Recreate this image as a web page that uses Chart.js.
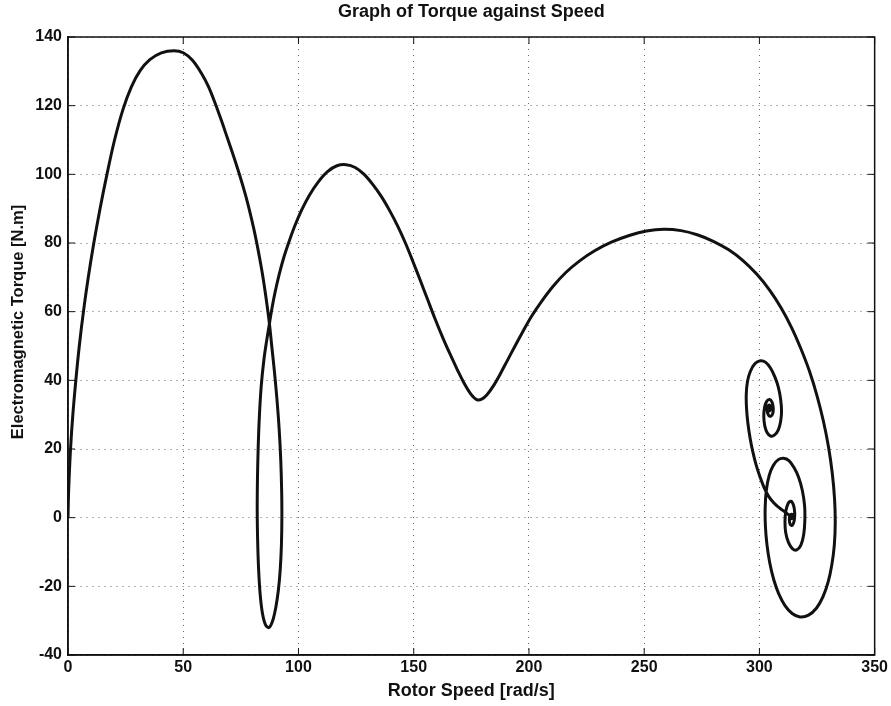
<!DOCTYPE html>
<html>
<head>
<meta charset="utf-8">
<title>Graph of Torque against Speed</title>
<script src="https://cdn.jsdelivr.net/npm/chart.js@4.4.1/dist/chart.umd.min.js"></script>
<style>
  html, body { margin: 0; padding: 0; background: #fff; }
  canvas { display: block; }
</style>
</head>
<body>
<canvas id="torqueChart" width="891" height="706"></canvas>
<script>
// Rotor speed [rad/s] and torque [N.m], in drawing order
const speed = [
  0, 0.15, 0.4, 1.1, 2.1, 3.4, 4.9, 6.7, 8.8, 11.2,
  13.9, 16.9, 20.2, 23.9, 27.5, 31.3, 35.5, 40.5, 46, 50,
  54, 58, 61, 63.8, 66.5, 69.2, 72, 74.6, 77, 79,
  80.6, 81.9, 83.2, 84.4, 85.5, 86.5, 87.4, 88.4, 89.5, 90.6,
  91.6, 92.3, 92.7, 92.8, 92.6, 92.1, 91.3, 90.2, 88.8, 87.2,
  85.7, 84.4, 83.4, 82.7, 82.3, 82.1, 82.2, 82.5, 83, 83.8,
  85, 86.3, 87.4, 88.5, 89.8, 91.5, 93.5, 95.7, 98.3, 101.3,
  104.8, 108.7, 112.6, 116.7, 120.7, 124.6, 128.5, 132.3, 136, 139.5,
  143, 146.4, 149.6, 152.8, 156, 159.2, 162.5, 165.8, 169, 172,
  174.8, 177.3, 179.5, 181.8, 184.5, 187.5, 190.5, 193.8, 197.2, 201,
  205.5, 210.5, 216, 222, 228.7, 236, 243.5, 251, 258.5, 266,
  273, 280, 286.7, 293, 299, 304.5, 309.5, 314, 318, 321.8,
  325, 327.8, 330, 331.6, 332.6, 332.9, 332.5, 331.4, 329.8, 327.6,
  324.8, 321.3, 317.6, 314.2, 311.1, 308.4, 306.2, 304.5, 303.3, 302.6,
  302.5, 303, 304.2, 306, 308.2, 310.5, 312.8, 315, 317, 318.6,
  319.6, 319.7, 319.2, 318, 316.2, 314.3, 312.6, 311.4, 311.1, 311.5,
  312.5, 313.7, 314.8, 315.3, 315.1, 314.3, 313.4, 313, 313.4, 314.1,
  314.4, 314, 313.7, 312, 310, 308, 306, 304, 302, 300.3,
  298.6, 297.2, 296, 295, 294.4, 294.3, 294.8, 296, 298, 300.4,
  302.6, 304.8, 306.7, 308.2, 309.2, 309.6, 309.2, 308.2, 306.6, 304.8,
  303.3, 302.3, 301.9, 302.2, 303.1, 304.4, 305.5, 306, 305.8, 305,
  304, 303.4, 303.6, 304.3, 304.8, 304.7, 304.1, 303.9, 304.2
];
const torque = [
  0, 5, 10, 20, 30, 40, 50, 60, 70, 80,
  90, 100, 110, 119, 125.5, 130.2, 133.4, 135.4, 136, 135.4,
  133.2, 129.3, 125.5, 120.8, 115.8, 110.5, 105, 99.5, 94, 88.8,
  84.2, 80, 75.4, 70.8, 66, 61.2, 56.5, 50, 43, 35,
  26, 17, 8, 0, -8, -15, -21, -26, -30, -32,
  -31.2, -28, -22.5, -15, -7, 2, 11, 20, 29, 38,
  46, 52, 56.5, 61, 65.5, 70.5, 75.5, 80, 84.8, 89.5,
  94, 97.9, 100.8, 102.5, 102.8, 102, 100, 97, 93.5, 89.5,
  85, 80, 74.7, 69.2, 63.6, 58, 52.6, 47.6, 43, 39,
  36, 34.4, 34.5, 35.8, 38.3, 41.8, 45.6, 49.8, 54, 58.5,
  63, 67.4, 71.4, 74.8, 77.8, 80.3, 82.2, 83.5, 84, 83.6,
  82.4, 80.5, 78, 74.8, 70.8, 66.2, 61, 55.3, 49.2, 42.5,
  35.5, 28, 20.5, 13, 5.5, -1.5, -8, -13.8, -18.8, -23,
  -26.3, -28.4, -28.9, -27.9, -25.6, -22.2, -18, -13.2, -8, -2.5,
  3, 8, 12.2, 15.2, 16.9, 17.3, 16.6, 14.6, 11.8, 8,
  3.5, -1, -5, -8, -9.4, -9, -7.2, -4.3, -1, 2,
  4.2, 4.8, 3.6, 1.5, -0.8, -2.2, -2, -0.6, 0.8, 1,
  0.2, -0.3, 0.2, 1.2, 2.2, 3.2, 4.5, 6.2, 8.8, 11.8,
  15.3, 19, 23, 27.5, 32, 36, 39.6, 42.5, 44.8, 45.7,
  45.3, 43.6, 41, 38, 34.5, 31, 28, 25.6, 24.1, 23.8,
  24.8, 26.8, 29.4, 32, 33.8, 34.4, 33.6, 32, 30.4, 29.6,
  29.8, 31, 32.4, 32.8, 32.2, 31.3, 31.1, 31.8, 32.1
];

const xTicks = [0, 50, 100, 150, 200, 250, 300, 350];
const yTicks = [-40, -20, 0, 20, 40, 60, 80, 100, 120, 140];
const yLabel = 'Electromagnetic Torque [N.m]';

const points = speed.map((s, i) => ({ x: s, y: torque[i] }));

const family = 'Liberation Sans, Arial, sans-serif';
const tickFont = { family, size: 16, weight: 'bold' };

// white page, closed MATLAB-style box with inward ticks, and the y label
// (which sits a little above the axis centre in the original)
const framePlugin = {
  id: 'frame',
  beforeDraw(chart) {
    const ctx = chart.ctx;
    ctx.save();
    ctx.fillStyle = '#fff';
    ctx.fillRect(0, 0, chart.width, chart.height);
    ctx.restore();
  },
  afterDraw(chart) {
    const { ctx, chartArea: a, scales: { x, y } } = chart;
    ctx.save();
    ctx.strokeStyle = '#111';
    ctx.lineWidth = 1.5;
    ctx.strokeRect(a.left, a.top, a.right - a.left, a.bottom - a.top);
    ctx.lineWidth = 1;
    xTicks.forEach(v => {
      const px = x.getPixelForValue(v);
      ctx.beginPath();
      ctx.moveTo(px, a.bottom); ctx.lineTo(px, a.bottom - 7);
      ctx.moveTo(px, a.top); ctx.lineTo(px, a.top + 7);
      ctx.stroke();
    });
    yTicks.forEach(v => {
      const py = y.getPixelForValue(v);
      ctx.beginPath();
      ctx.moveTo(a.left, py); ctx.lineTo(a.left + 7, py);
      ctx.moveTo(a.right, py); ctx.lineTo(a.right - 7, py);
      ctx.stroke();
    });

    ctx.translate(18, (a.top + a.bottom) / 2 - 24);
    ctx.rotate(-Math.PI / 2);
    ctx.fillStyle = '#111';
    ctx.font = 'bold 16.5px ' + family;
    ctx.textAlign = 'center';
    ctx.textBaseline = 'middle';
    ctx.fillText(yLabel, 0, 0);
    ctx.restore();
  }
};

const ctx = document.getElementById('torqueChart').getContext('2d');
const torqueChart = new Chart(ctx, {
  type: 'scatter',
  data: {
    datasets: [{
      label: 'Torque',
      data: points,
      showLine: true,
      borderColor: '#111',
      borderWidth: 3,
      pointRadius: 0,
      tension: 0.35,
      fill: false
    }]
  },
  options: {
    responsive: false,
    animation: false,
    layout: { padding: { left: 6, right: 14, top: 0, bottom: 3 } },
    plugins: {
      legend: { display: false },
      tooltip: { enabled: false },
      title: {
        display: true,
        fullSize: false,
        text: 'Graph of Torque against Speed',
        color: '#111',
        font: { family, size: 18, weight: 'bold' },
        padding: { top: 1, bottom: 14.4 }
      }
    },
    scales: {
      x: {
        type: 'linear',
        min: 0,
        max: 350,
        afterBuildTicks: scale => { scale.ticks = xTicks.map(v => ({ value: v })); },
        afterFit: scale => { scale.height = 48; },
        ticks: { color: '#111', font: tickFont, padding: 3, maxRotation: 0 },
        grid: { color: '#666', lineWidth: 1, drawTicks: false },
        border: { display: true, color: '#111', width: 1.5, dash: [1, 5] },
        title: {
          display: true,
          text: 'Rotor Speed [rad/s]',
          color: '#111',
          font: { family, size: 18, weight: 'bold' },
          padding: { top: 0, bottom: 1 }
        }
      },
      y: {
        type: 'linear',
        min: -40,
        max: 140,
        afterBuildTicks: scale => { scale.ticks = yTicks.map(v => ({ value: v })); },
        afterFit: scale => { scale.width = 62; },
        ticks: { color: '#111', font: tickFont, padding: 6 },
        grid: { color: '#666', lineWidth: 1, drawTicks: false },
        border: { display: true, color: '#111', width: 1.5, dash: [1, 5] },
        title: { display: false }
      }
    }
  },
  plugins: [framePlugin]
});
</script>
</body>
</html>
